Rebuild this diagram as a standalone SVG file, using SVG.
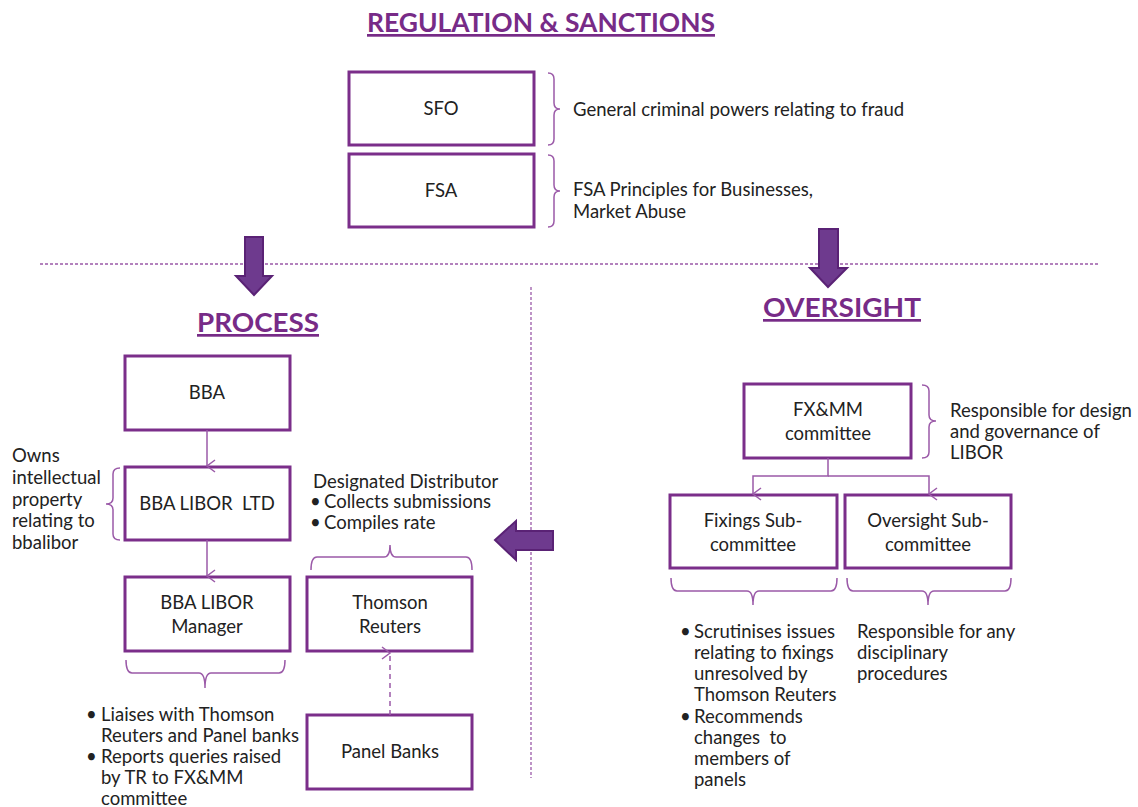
<svg xmlns="http://www.w3.org/2000/svg" width="1138" height="807" viewBox="0 0 1138 807">
<style>
  .bg{fill:#ffffff}
  .box{fill:#ffffff;stroke:#7B2E8A;stroke-width:3}
  .t{font-family:Lato,"Liberation Sans",sans-serif;font-size:18.5px;fill:#222222}
  .c{text-anchor:middle}
  .h{font-family:Lato,"Liberation Sans",sans-serif;font-weight:bold;fill:#772B87;text-decoration:underline}
  .brace{fill:none;stroke:#9B5AA8;stroke-width:1.5}
  .conn{fill:none;stroke:#9B5AA8;stroke-width:1.5}
  .dash{fill:none;stroke:#9B5AA8;stroke-width:1.3;stroke-dasharray:3 2}
  .big{fill:#6E3A8E;stroke:#5A2275;stroke-width:2;stroke-linejoin:miter}
</style>
<defs>
  <marker id="open" markerWidth="14" markerHeight="14" refX="7" refY="12" orient="auto-start-reverse" markerUnits="userSpaceOnUse" viewBox="0 0 14 14">
    <path d="M1,4 L7,12 L13,4" fill="none" stroke="#9B5AA8" stroke-width="1.5"/>
  </marker>
</defs>
<rect class="bg" x="0" y="0" width="1138" height="807"/>

<!-- Headings -->
<g id="headings">
  <text class="h" x="367" y="32" font-size="27" textLength="348" lengthAdjust="spacingAndGlyphs">REGULATION &amp; SANCTIONS</text>
  <text class="h" x="197" y="332" font-size="27" textLength="122" lengthAdjust="spacingAndGlyphs">PROCESS</text>
  <text class="h" x="763" y="317" font-size="27" textLength="158" lengthAdjust="spacingAndGlyphs">OVERSIGHT</text>
</g>

<!-- Dividers and block arrows -->
<g id="dividers">
  <line class="dash" x1="40" y1="264" x2="1100" y2="264"/>
  <line class="dash" x1="531" y1="287" x2="531" y2="778"/>
</g>
<g id="block-arrows">
  <polygon class="big" points="245,237 263,237 263,276 272,276 254,295 236,276 245,276"/>
  <polygon class="big" points="819,229 838,229 838,268 847,268 828,287 810,268 819,268"/>
  <polygon class="big" points="553,531 553,550 516,550 516,560 495,540 516,521 516,531"/>
</g>

<!-- Regulation nodes -->
<g id="sfo">
  <rect class="box" x="349" y="72" width="185" height="73"/>
  <text class="t c" x="441" y="115">SFO</text>
</g>
<g id="sfo-note">
  <path class="brace" d="M548,73 Q554,73 554,79 V103 Q554,109 560,109 Q554,109 554,115 V139 Q554,145 548,145"/>
  <text class="t" x="573" y="116">General criminal powers relating to fraud</text>
</g>
<g id="fsa">
  <rect class="box" x="349" y="154" width="185" height="73"/>
  <text class="t c" x="441" y="197">FSA</text>
</g>
<g id="fsa-note">
  <path class="brace" d="M548,155 Q554,155 554,161 V185 Q554,191 560,191 Q554,191 554,197 V221 Q554,227 548,227"/>
  <text class="t" x="573" y="196">FSA Principles for Businesses,</text>
  <text class="t" x="573" y="218">Market Abuse</text>
</g>

<!-- Process nodes -->
<g id="bba">
  <rect class="box" x="125" y="356" width="165" height="74"/>
  <text class="t c" x="207" y="399">BBA</text>
</g>
<g id="bba-libor-ltd">
  <rect class="box" x="125" y="467" width="165" height="73"/>
  <text class="t c" x="207" y="510" xml:space="preserve">BBA LIBOR  LTD</text>
</g>
<g id="owns-note">
  <path class="brace" d="M120,468 Q113,468 113,474 V498 Q113,504 106,504 Q113,504 113,510 V534 Q113,540 120,540"/>
  <text class="t" x="12" y="462">Owns</text>
  <text class="t" x="12" y="484">intellectual</text>
  <text class="t" x="12" y="506">property</text>
  <text class="t" x="12" y="527">relating to</text>
  <text class="t" x="12" y="549">bbalibor</text>
</g>
<g id="bba-libor-manager">
  <rect class="box" x="125" y="577" width="165" height="74"/>
  <text class="t c" x="207" y="609">BBA LIBOR</text>
  <text class="t c" x="207" y="633">Manager</text>
</g>
<g id="manager-note">
  <path class="brace" d="M126,660 Q126,673 132,673 H199 Q205,673 205,688 Q205,673 211,673 H279 Q285,673 285,660"/>
  <text class="t" x="86" y="721">•</text>
  <text class="t" x="101" y="721">Liaises with Thomson</text>
  <text class="t" x="101" y="742">Reuters and Panel banks</text>
  <text class="t" x="86" y="763">•</text>
  <text class="t" x="101" y="763">Reports queries raised</text>
  <text class="t" x="101" y="784">by TR to FX&amp;MM</text>
  <text class="t" x="101" y="805">committee</text>
</g>
<g id="thomson-reuters">
  <rect class="box" x="307" y="577" width="165" height="74"/>
  <text class="t c" x="390" y="609">Thomson</text>
  <text class="t c" x="390" y="633">Reuters</text>
</g>
<g id="distributor-note">
  <path class="brace" d="M311,570 Q311,557 317,557 H384 Q390,557 390,545 Q390,557 396,557 H466 Q472,557 472,570"/>
  <text class="t" x="313" y="488">Designated Distributor</text>
  <text class="t" x="310" y="508">•</text>
  <text class="t" x="324" y="508">Collects submissions</text>
  <text class="t" x="310" y="529">•</text>
  <text class="t" x="324" y="529">Compiles rate</text>
</g>
<g id="panel-banks">
  <rect class="box" x="307" y="715" width="165" height="74"/>
  <text class="t c" x="390" y="758">Panel Banks</text>
</g>

<!-- Oversight nodes -->
<g id="fxmm">
  <rect class="box" x="744" y="384" width="167" height="74"/>
  <text class="t c" x="828" y="416">FX&amp;MM</text>
  <text class="t c" x="828" y="440">committee</text>
</g>
<g id="fxmm-note">
  <path class="brace" d="M922,385 Q929,385 929,391 V415 Q929,421 936,421 Q929,421 929,427 V452 Q929,458 922,458"/>
  <text class="t" x="950" y="417">Responsible for design</text>
  <text class="t" x="950" y="438">and governance of</text>
  <text class="t" x="950" y="459">LIBOR</text>
</g>
<g id="fixings">
  <rect class="box" x="670" y="495" width="167" height="73"/>
  <text class="t c" x="753" y="527">Fixings Sub-</text>
  <text class="t c" x="753" y="551">committee</text>
</g>
<g id="fixings-note">
  <path class="brace" d="M671,578 Q671,591 677,591 H747 Q753,591 753,605 Q753,591 759,591 H831 Q837,591 837,578"/>
  <text class="t" x="680" y="638">•</text>
  <text class="t" x="694" y="638">Scrutinises issues</text>
  <text class="t" x="694" y="659">relating to fixings</text>
  <text class="t" x="694" y="680">unresolved by</text>
  <text class="t" x="694" y="701">Thomson Reuters</text>
  <text class="t" x="680" y="723">•</text>
  <text class="t" x="694" y="723">Recommends</text>
  <text class="t" x="694" y="744" xml:space="preserve">changes  to</text>
  <text class="t" x="694" y="765">members of</text>
  <text class="t" x="694" y="786">panels</text>
</g>
<g id="oversight-sub">
  <rect class="box" x="845" y="495" width="166" height="73"/>
  <text class="t c" x="928" y="527">Oversight Sub-</text>
  <text class="t c" x="928" y="551">committee</text>
</g>
<g id="oversight-note">
  <path class="brace" d="M847,578 Q847,591 853,591 H922 Q928,591 928,605 Q928,591 934,591 H1005 Q1011,591 1011,578"/>
  <text class="t" x="857" y="638">Responsible for any</text>
  <text class="t" x="857" y="659">disciplinary</text>
  <text class="t" x="857" y="680">procedures</text>
</g>

<!-- Connectors -->
<g id="connectors">
  <line class="conn" x1="207" y1="430" x2="207" y2="466" marker-end="url(#open)"/>
  <line class="conn" x1="207" y1="540" x2="207" y2="576" marker-end="url(#open)"/>
  <line class="conn" x1="390" y1="715" x2="390" y2="653" stroke-dasharray="5 4" marker-end="url(#open)"/>
  <polyline class="conn" points="828,458 828,476 753,476 753,494" marker-end="url(#open)"/>
  <polyline class="conn" points="828,476 929,476 929,494" marker-end="url(#open)"/>
</g>
</svg>
